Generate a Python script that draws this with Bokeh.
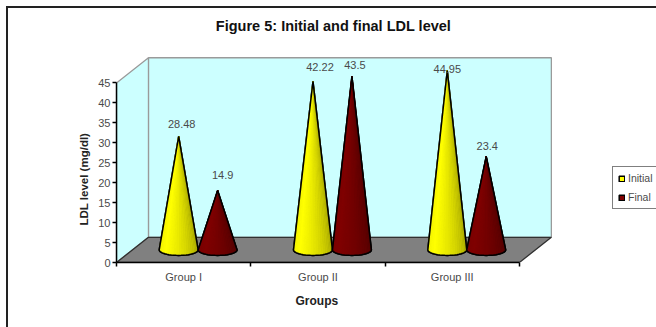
import numpy as np
from bokeh.core.properties import value
from bokeh.embed import file_html
from bokeh.models import (ColumnDataSource, FixedTicker, InlineStyleSheet, Label,
                          Legend, LegendItem, LinearAxis, Range1d, Title)
from bokeh.plotting import figure
from bokeh.resources import INLINE

# Chart data
groups = ["Group I", "Group II", "Group III"]
initial = [28.48, 42.22, 44.95]
final = [14.9, 43.5, 23.4]
series_names = ["Initial", "Final"]
value_ticks = list(range(0, 50, 5))

# Pseudo-3D box: one unit of depth shifts a point right (in groups) and up (in LDL units)
DEPTH_X = 0.238
DEPTH_Y = 6.32
VALUE_MAX = 45
CONE_CENTER = 0.489
CONE_OFFSET = 0.145
CONE_RADIUS = 0.145
CONE_ELLIPSE = 1.38

WALL = "#CCFFFF"
FLOOR = "#808080"
FONT = "Liberation Sans"
FRAME_LEFT = 116
FRAME_BOTTOM = 262


def project(g, v, d):
    return g + d * DEPTH_X, v + d * DEPTH_Y


# The chart-area border runs off the page on the right and bottom
border_css = InlineStyleSheet(css="""
:host::before, :host::after { content: ""; position: absolute; background: #222; z-index: 5; }
:host::before { left: 6px; top: 6px; width: 1.5px; height: 321px; }
:host::after { left: 6px; top: 6px; width: 650px; height: 1.5px; }
""")

p = figure(width=656, height=327, output_backend="svg", toolbar_location=None,
           x_axis_type=None, y_axis_type=None,
           x_range=Range1d(0, 540 / 134.3), y_range=Range1d(0, FRAME_BOTTOM / 3.99),
           min_border_left=FRAME_LEFT, min_border_right=0, min_border_top=0, min_border_bottom=65,
           background_fill_color="white", border_fill_color="white", outline_line_color=None,
           stylesheets=[border_css])
p.grid.visible = False

# Value axis along the front-left edge
yaxis = LinearAxis(ticker=FixedTicker(ticks=value_ticks), bounds=(0, VALUE_MAX),
                   major_tick_out=4, major_tick_in=0, minor_tick_out=0, minor_tick_in=0,
                   axis_line_color="black", axis_line_width=1.5,
                   major_tick_line_color="black", major_tick_line_width=1.5,
                   major_label_text_font=FONT, major_label_text_font_size="11px",
                   major_label_text_color="#4a4a4a", major_label_standoff=2)
p.add_layout(yaxis, "left")

# Group axis: labels sit mid-group, tick marks sit on the group boundaries
xaxis = LinearAxis(ticker=FixedTicker(ticks=[i + 0.5 for i in range(len(groups))],
                                      minor_ticks=list(range(len(groups) + 1))),
                   major_label_overrides={i + 0.5: g for i, g in enumerate(groups)},
                   bounds=(0, len(groups)),
                   major_tick_out=0, major_tick_in=0, minor_tick_out=4, minor_tick_in=0,
                   axis_line_color="black", axis_line_width=1.5,
                   minor_tick_line_color="black", minor_tick_line_width=1.5,
                   major_label_text_font=FONT, major_label_text_font_size="11px",
                   major_label_text_color="#4a4a4a", major_label_standoff=4)
p.add_layout(xaxis, "below")

# Axis captions sit outside the frame, so they go in title panels beside the axes
p.add_layout(Title(text="LDL level (mg/dl)", align="left", offset=37, standoff=12,
                   text_font=FONT, text_font_size="11.5px", text_font_style="bold",
                   text_color="#222222"), "left")
p.add_layout(Title(text="Groups", align="left", offset=179, standoff=13,
                   text_font=FONT, text_font_size="12px", text_font_style="bold",
                   text_color="#222222"), "below")

# Box walls and floor
n = len(groups)
back = [project(g, v, 1) for g, v in [(0, 0), (n, 0), (n, VALUE_MAX), (0, VALUE_MAX)]]
side = [project(0, 0, 0), project(0, 0, 1), project(0, VALUE_MAX, 1), project(0, VALUE_MAX, 0)]
floor = [project(0, 0, 0), project(n, 0, 0), project(n, 0, 1), project(0, 0, 1)]
for poly, fill, edge in [(back, WALL, "#9a9a9a"), (side, WALL, "#9a9a9a"), (floor, FLOOR, "#303030")]:
    p.patch([q[0] for q in poly], [q[1] for q in poly], fill_color=fill,
            line_color=edge, line_width=1.3)


def cone_outline(cx, height):
    """Apex, then the front half of the base ellipse."""
    t = np.linspace(np.pi, 2 * np.pi, 25)
    bx, by = project(cx, 0, 0.5)
    ax, ay = project(cx, height, 0.5)
    xs = np.concatenate([[ax], bx + CONE_RADIUS * np.cos(t)])
    ys = np.concatenate([[ay], by + CONE_ELLIPSE * np.sin(t)])
    return xs.tolist(), ys.tolist()


def shade(rgb, u):
    """Lighting across the cone: dim on the left rim, brightest left of centre, dark on the right."""
    k = 0.93 + 0.07 * min(u / 0.25, 1) if u < 0.25 else 1 - 0.42 * ((u - 0.25) / 0.75) ** 1.3
    return "#%02x%02x%02x" % tuple(int(c * k) for c in rgb)


def draw_series(values, sign, rgb):
    base_color = "#%02x%02x%02x" % rgb
    centers = [i + CONE_CENTER + sign * CONE_OFFSET for i in range(len(values))]
    outlines = [cone_outline(c, v) for c, v in zip(centers, values)]
    silhouette = p.patches([o[0] for o in outlines], [o[1] for o in outlines],
                           fill_color=base_color, line_color="black", line_width=1.5)
    fx, fy, fc = [], [], []
    for c, v in zip(centers, values):
        xs, ys = cone_outline(c, v)
        for j in range(1, len(xs) - 1):
            fx.append([xs[0], xs[j], xs[j + 1]])
            fy.append([ys[0], ys[j], ys[j + 1]])
            fc.append(shade(rgb, (j - 1) / (len(xs) - 2)))
    p.patches(fx, fy, fill_color=fc, line_color=fc, line_width=0.4)
    p.patches([o[0] for o in outlines], [o[1] for o in outlines],
              fill_color=None, line_color="black", line_width=1.5)
    return silhouette


r_initial = draw_series(initial, -1, (255, 255, 0))
r_final = draw_series(final, 1, (128, 0, 0))

# Value labels above each cone; pixel nudges keep them where they read best
centers = [i + CONE_CENTER + s * CONE_OFFSET for i in range(n) for s in (-1, 1)]
heights = [h for pair in zip(initial, final) for h in pair]
nudge_x = [3, 5, 7, 3, 0, 1]
nudge_y = [12, 15, 14, 11, 2, 11]
tops = [project(c, h, 0.5) for c, h in zip(centers, heights)]
labels = ColumnDataSource(dict(x=[t[0] for t in tops], y=[t[1] for t in tops],
                               text=[f"{h:g}" for h in heights],
                               dx=nudge_x, dy=[-d for d in nudge_y]))
p.text("x", "y", text="text", source=labels, x_offset="dx", y_offset="dy",
       text_align="center", text_baseline="middle", text_font=value(FONT),
       text_font_size="11px", text_color="#4a4a4a")

# Chart heading, placed by page position inside the frame
p.add_layout(Label(x=333 - FRAME_LEFT, y=FRAME_BOTTOM - 25, x_units="screen", y_units="screen",
                   text="Figure 5: Initial and final LDL level", text_font=FONT,
                   text_font_size="14.5px", text_font_style="bold", text_color="#111111",
                   text_align="center", text_baseline="middle"))

legend = Legend(items=[LegendItem(label=series_names[0], renderers=[r_initial]),
                       LegendItem(label=series_names[1], renderers=[r_final])],
                location=(496, 53), glyph_width=7, glyph_height=7, spacing=7,
                padding=5, margin=0, label_standoff=3,
                label_text_font=FONT, label_text_font_size="10.5px",
                label_text_color="#4a4a4a", label_height=12,
                border_line_color="black", border_line_width=1.5,
                background_fill_color="white", background_fill_alpha=1)
p.add_layout(legend)

open("out.html", "w").write(file_html(p, INLINE))
